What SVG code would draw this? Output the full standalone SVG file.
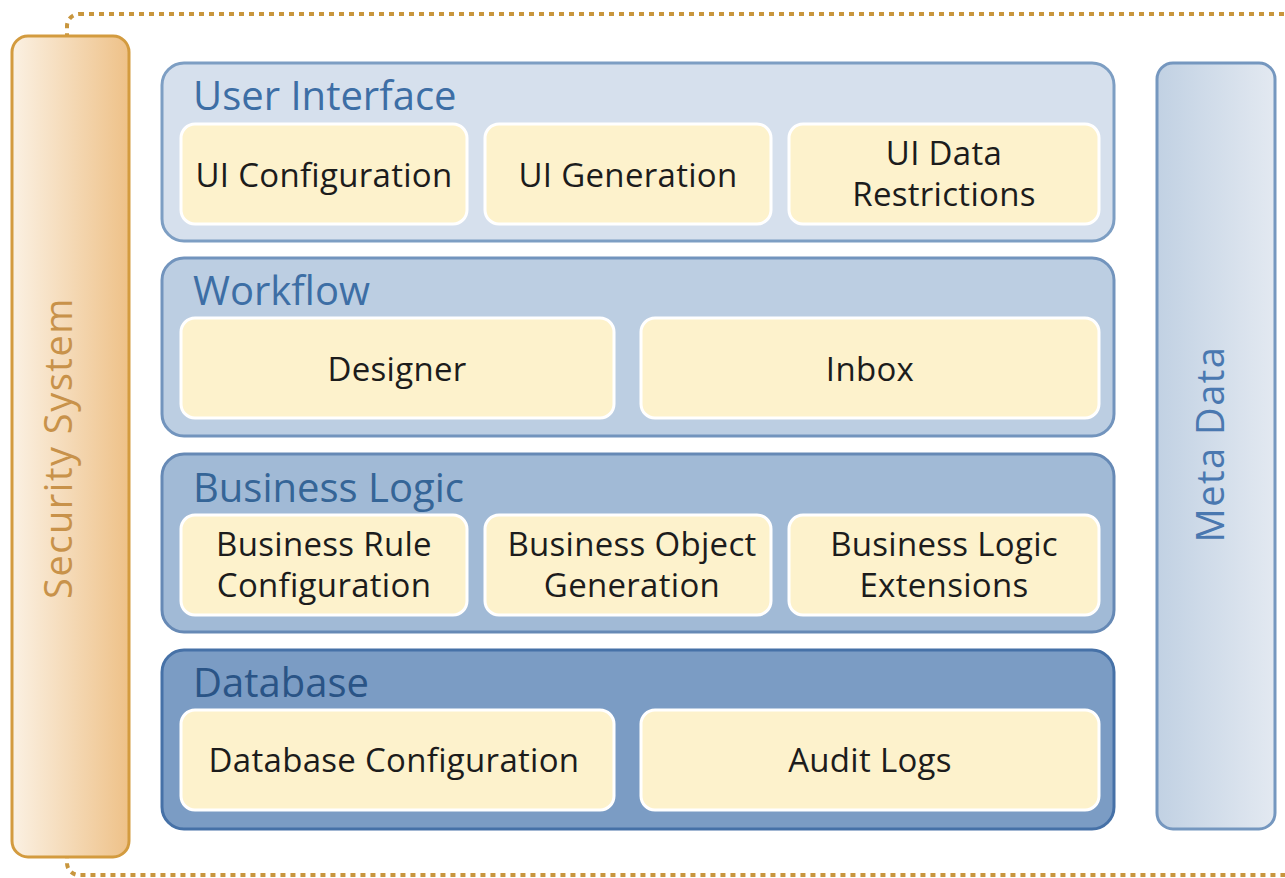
<svg xmlns="http://www.w3.org/2000/svg" width="1285" height="878" viewBox="0 0 1285 878">
<style>
.panel{stroke-width:3}
.box{fill:#fdf2cc;stroke:#ffffff;stroke-width:3}
.t{font-family:"Open Sans","Liberation Sans",sans-serif;font-size:33px;letter-spacing:0.3px;fill:#1c1c1c;text-anchor:middle}
.h{font-family:"Open Sans","Liberation Sans",sans-serif;font-size:40px}
</style>
<defs>
<linearGradient id="gSec" x1="0" y1="0" x2="1" y2="0">
<stop offset="0" stop-color="#fbf1e3"/>
<stop offset="1" stop-color="#eec188"/>
</linearGradient>
<linearGradient id="gMeta" x1="0" y1="0" x2="1" y2="0">
<stop offset="0" stop-color="#c1d1e3"/>
<stop offset="1" stop-color="#e3e9f1"/>
</linearGradient>
</defs>
<rect width="1285" height="878" fill="#ffffff"/>
<g id="boundary">
<rect x="67" y="14" width="1260" height="861" rx="12" fill="none" stroke="#c8963e" stroke-width="4" stroke-dasharray="5 5"/>
</g>
<g id="security">
<rect x="12" y="36" width="117" height="821" rx="16" fill="url(#gSec)" stroke="#d39b3f" stroke-width="3"/>
<text transform="translate(72,448) rotate(-90)" class="h" text-anchor="middle" style="font-size:38px;letter-spacing:1.5px" fill="#c8924a">Security System</text>
</g>
<g id="metadata">
<rect x="1157" y="63" width="118" height="766" rx="16" fill="url(#gMeta)" stroke="#7597bf" stroke-width="3"/>
<text transform="translate(1224,444) rotate(-90)" class="h" text-anchor="middle" style="font-size:38px;letter-spacing:1.5px" fill="#4a78b0">Meta Data</text>
</g>
<g id="ui">
<rect class="panel" x="162" y="63" width="952" height="178" rx="22" fill="#d6e0ed" stroke="#7d9ec3"/>
<text class="h" x="193" y="110" fill="#3d6ea5">User Interface</text>
<rect class="box" x="181" y="124" width="286" height="100" rx="14"/>
<text class="t" x="324" y="187">UI Configuration</text>
<rect class="box" x="485" y="124" width="286" height="100" rx="14"/>
<text class="t" x="628" y="187">UI Generation</text>
<rect class="box" x="789" y="124" width="310" height="100" rx="14"/>
<text class="t" x="944" y="165">UI Data</text>
<text class="t" x="944" y="206">Restrictions</text>
</g>
<g id="workflow">
<rect class="panel" x="162" y="258" width="952" height="178" rx="22" fill="#bccee2" stroke="#7294bd"/>
<text class="h" x="193" y="305" fill="#3d6ea5">Workflow</text>
<rect class="box" x="181" y="318" width="433" height="100" rx="14"/>
<text class="t" x="397" y="381">Designer</text>
<rect class="box" x="641" y="318" width="458" height="100" rx="14"/>
<text class="t" x="870" y="381">Inbox</text>
</g>
<g id="business">
<rect class="panel" x="162" y="454" width="952" height="178" rx="22" fill="#a1bad6" stroke="#6689b5"/>
<text class="h" x="193" y="502" fill="#356597">Business Logic</text>
<rect class="box" x="181" y="515" width="286" height="100" rx="14"/>
<text class="t" x="324" y="556">Business Rule</text>
<text class="t" x="324" y="597">Configuration</text>
<rect class="box" x="485" y="515" width="286" height="100" rx="14"/>
<text class="t" x="632" y="556">Business Object</text>
<text class="t" x="632" y="597">Generation</text>
<rect class="box" x="789" y="515" width="310" height="100" rx="14"/>
<text class="t" x="944" y="556">Business Logic</text>
<text class="t" x="944" y="597">Extensions</text>
</g>
<g id="database">
<rect class="panel" x="162" y="650" width="952" height="179" rx="22" fill="#7b9cc4" stroke="#4671a7"/>
<text class="h" x="193" y="697" fill="#2a5486">Database</text>
<rect class="box" x="181" y="710" width="433" height="100" rx="14"/>
<text class="t" x="394" y="772">Database Configuration</text>
<rect class="box" x="641" y="710" width="458" height="100" rx="14"/>
<text class="t" x="870" y="772">Audit Logs</text>
</g>
<g id="connectors"></g>
</svg>
